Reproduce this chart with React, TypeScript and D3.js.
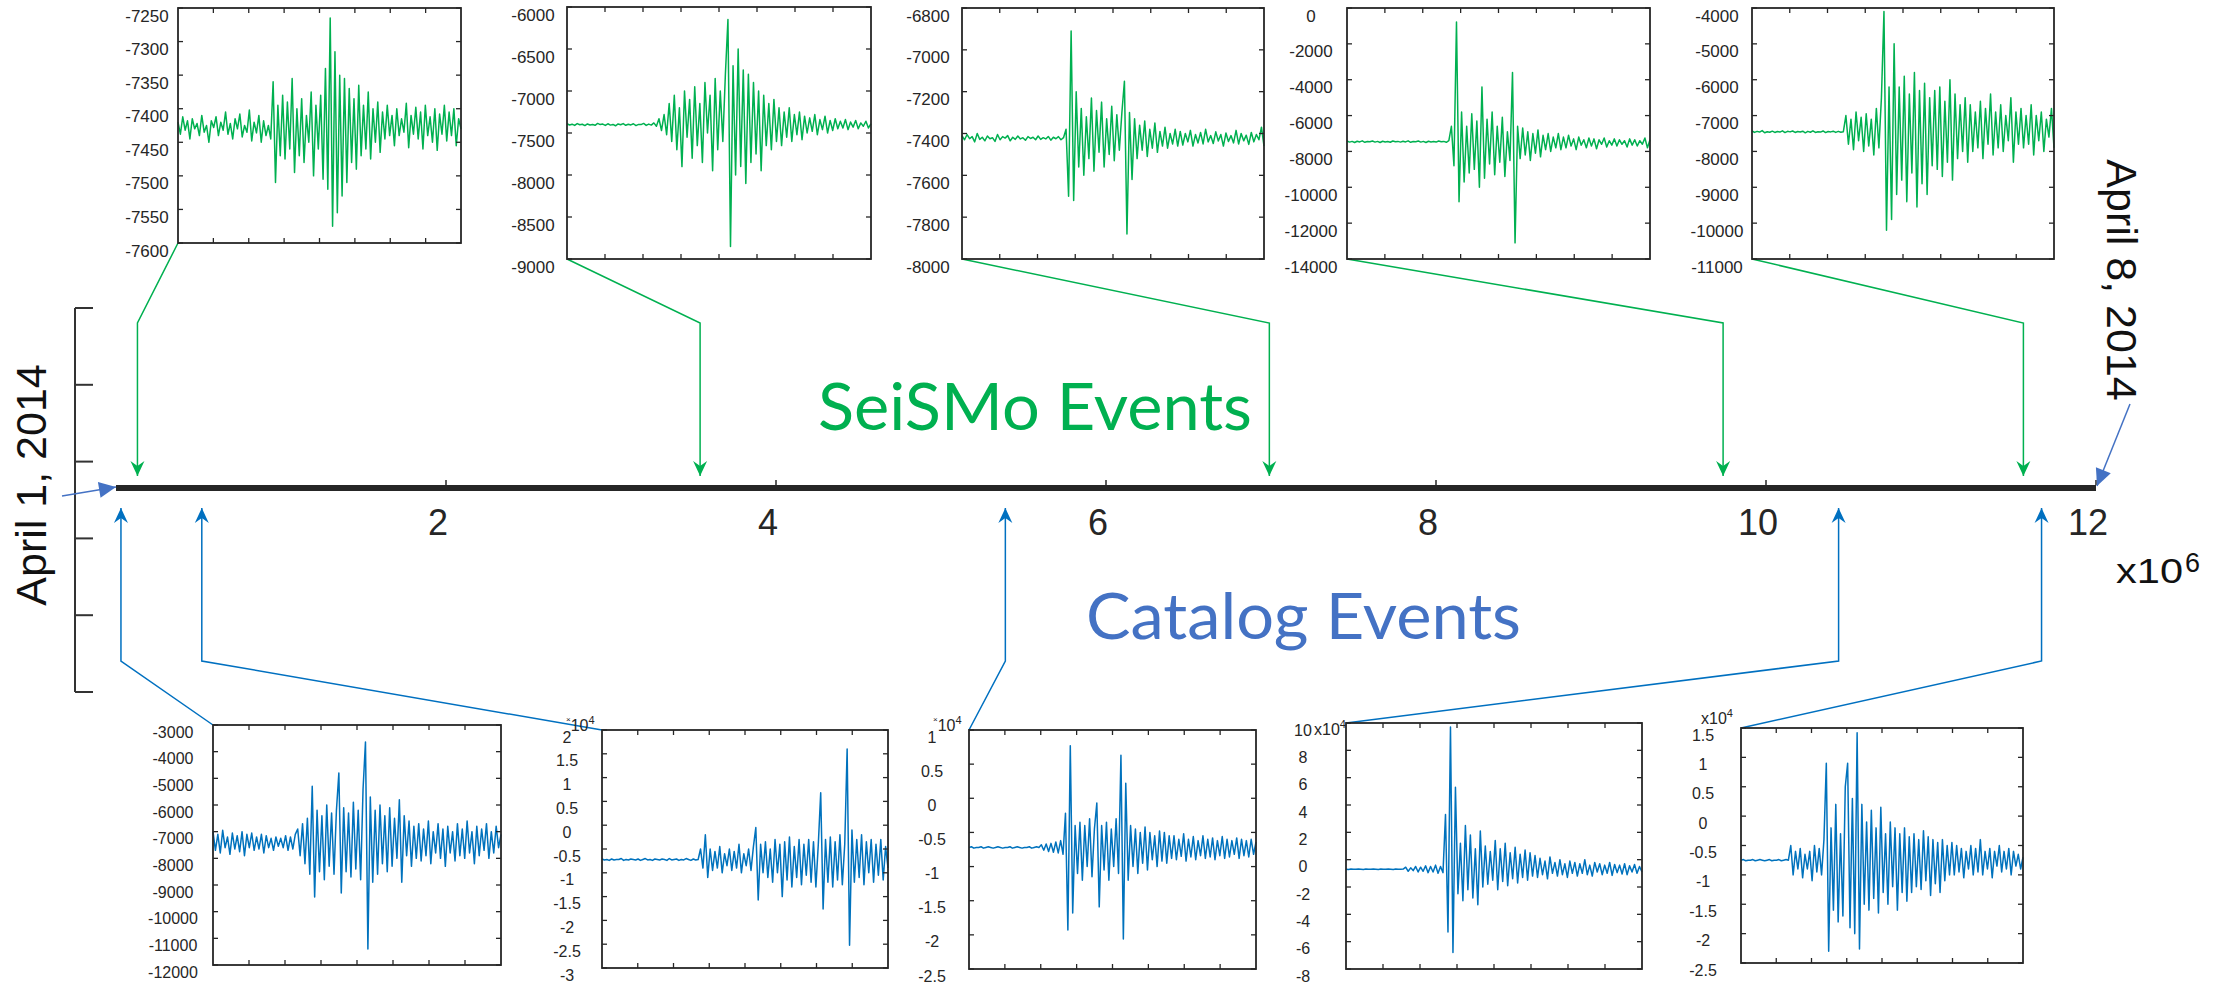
import React from 'react';
import * as d3 from 'd3';

// waveform samples (top row = SeiSMo, bottom row = catalog)
const seismo1 = [
  -7420, -7438, -7412, -7432, -7418, -7445, -7415, -7430, -7422, -7440, -7410, -7435, -7425, -7450, -7418, -7428, -7412, -7440, -7420, -7432,
  -7405, -7438, -7422, -7445, -7415, -7430, -7408, -7442, -7425, -7435, -7402, -7448, -7420, -7436, -7410, -7450, -7418, -7440, -7425, -7445,
  -7360, -7510, -7395, -7470, -7380, -7475, -7390, -7460, -7355, -7495, -7400, -7470, -7385, -7480, -7410, -7450, -7375, -7500, -7395, -7460,
  -7380, -7505, -7340, -7520, -7265, -7575, -7315, -7555, -7350, -7530, -7355, -7510, -7370,
  -7480, -7385, -7490, -7365, -7470, -7395, -7460, -7375, -7475, -7400, -7450, -7390, -7465,
  -7405, -7445, -7395, -7440, -7410, -7455, -7400, -7440, -7415, -7435, -7392, -7458, -7410, -7438, -7398, -7445, -7405, -7460, -7395, -7440,
  -7412, -7450, -7400, -7462, -7408, -7438, -7395, -7448, -7405, -7440, -7400, -7455, -7415, -7430,
];
const seismo2 = [
  -7390, -7405, -7395, -7410, -7388, -7402, -7396, -7412, -7392, -7404, -7398, -7408, -7386, -7400, -7394, -7410, -7390, -7406, -7398, -7414,
  -7392, -7402, -7388, -7408, -7396, -7404, -7390, -7412, -7398, -7400, -7386, -7410, -7394, -7406, -7380, -7420,
  -7330, -7470, -7280, -7520, -7150, -7600, -7050, -7700, -7200, -7900, -7000, -7550, -7100, -7800, -6950,
  -7650, -7150, -7850, -6900, -7500, -7050, -7950, -6850, -7700, -7000, -7600, -6800,
  -6150, -8850, -6700, -8000, -6500, -7900, -6750, -8100,
  -6800, -7850, -6900, -7750, -7000, -7950, -7050, -7650, -7150, -7700, -7100, -7600, -7200, -7650, -7250,
  -7550, -7200, -7600, -7280, -7520, -7250, -7580, -7300, -7500, -7320, -7480, -7280, -7520, -7340, -7460, -7300, -7500, -7350, -7470, -7330,
  -7450, -7360, -7440, -7340, -7460, -7370, -7430, -7350, -7450, -7380, -7420, -7360, -7440, -7390,
];
const seismo3 = [
  -7410, -7430, -7405, -7425, -7415, -7440, -7400, -7428, -7418, -7435, -7412, -7425, -7420, -7438, -7405, -7430, -7415, -7422, -7410, -7435,
  -7418, -7428, -7412, -7426, -7420, -7432, -7415, -7424, -7418, -7430, -7412, -7428, -7420, -7426, -7414, -7432, -7418, -7425, -7415, -7430, -7420,
  -7380, -7700, -6910, -7720,
  -7200, -7560, -7280, -7600, -7320, -7520, -7230, -7580, -7290, -7490, -7250, -7560, -7330, -7500, -7270, -7530, -7310, -7480, -7300,
  -7150, -7880, -7300, -7620,
  -7330, -7520, -7360, -7480, -7340, -7510, -7380, -7470, -7350, -7490, -7390, -7460, -7370, -7470, -7400, -7450, -7380, -7460,
  -7390, -7455, -7400, -7440, -7385, -7460, -7405, -7445, -7395, -7450, -7380, -7440, -7410, -7448, -7392, -7436, -7405, -7460, -7398, -7438,
  -7410, -7445, -7385, -7450, -7400, -7435, -7408, -7452, -7395, -7440, -7405, -7430, -7370, -7460,
];
const seismo4 = [
  -7420, -7480, -7440, -7500, -7430, -7470, -7410, -7490, -7450, -7460, -7420, -7480, -7440, -7500, -7430, -7470, -7450, -7490, -7420, -7460,
  -7440, -7480, -7430, -7470, -7410, -7490, -7450, -7460, -7420, -7480, -7440, -7500, -7430, -7470, -7450, -7480, -7420, -7460, -7440, -7490, -7400,
  -6600, -8800, -780, -10800,
  -5800, -9700, -6600, -9200, -5900, -9000, -6300, -10000,
  -4400, -9500, -6200, -8700, -5800, -9300, -6600, -8600, -6100, -9400, -6900, -8500,
  -3600, -13100, -6600,
  -8400, -6700, -8200, -6900, -8500, -7000, -8100, -6800, -8300, -7100, -7900, -7000, -8000, -7200, -7800, -7000, -7900, -7200,
  -7800, -7100, -7700, -7300, -7900, -7200, -7650, -7350, -7800, -7250, -7700, -7300, -7850, -7350, -7600, -7250, -7750, -7400, -7650, -7300,
  -7700, -7350, -7600, -7400, -7750, -7300, -7650, -7350, -7700, -7400, -7600, -7250, -7800, -7350,
];
const seismo5 = [
  -7430, -7470, -7440, -7460, -7420, -7480, -7450, -7465, -7435, -7470, -7445, -7460, -7425, -7475, -7440, -7455, -7430, -7470, -7445, -7460,
  -7435, -7480, -7440, -7465, -7425, -7470, -7450, -7460, -7430, -7475, -7445, -7455, -7435, -7470, -7440, -7465, -7450,
  -7000, -7800, -7100, -7950, -6900, -7700, -7050, -8000, -6950, -7850, -7100, -8100, -6800, -7900, -6500,
  -4100, -10200, -6200,
  -9900, -5000, -9200, -6200, -8800, -5900, -9400, -6400, -8600, -5800, -9550, -6300, -8900, -6100, -9200, -6500, -8400, -6300,
  -8500, -6200, -8700, -6600, -8300, -6000, -8800, -6400, -8200, -6700, -8000, -6500, -8300,
  -6700, -8000, -6900, -7900, -6600, -8200, -6800, -7800, -6400, -8100, -6900, -7900, -6700, -8000, -7000, -7700, -6500, -8300, -6900, -7800,
  -6800, -7900, -7000, -7800, -6700, -8100, -7000, -7700, -6900, -8000, -7100, -7600, -6800, -7900,
];

const catalog1 = [
  -7000, -7700, -7100, -7800, -6950, -7600, -7200, -7850, -7050, -7650, -7150, -7750, -7000, -7900, -7100, -7600, -7050, -7700, -7200, -7650,
  -7100, -7800, -7150, -7600, -7250, -7700, -7200, -7550, -7250, -7600, -7150, -7700, -7200, -7650, -7100,
  -6900, -7900, -6700, -8200, -6500, -8600, -5300, -9450, -6200, -8500, -6400, -8800, -6000, -8300, -6300, -8600,
  -6200, -4800, -9300, -6100, -8500, -6300, -8700, -5900, -8400, -6200,
  -8800, -5400, -3640, -11400, -5700, -8900,
  -6200, -8600, -6000, -8200, -6400, -8500, -6100, -8300, -6500, -8000, -5800, -8900, -6400, -7900,
  -6600, -8300, -6800, -8000, -6700, -8100, -6900, -7900, -6600, -8200, -7000, -7800, -6700, -8000, -6900, -8300, -6800, -7800, -7000, -8100,
  -6700, -7900, -6900, -8000, -6600, -7800, -7000, -8200, -6800, -7900, -6900, -7700, -6700, -8000, -7000, -7800, -6800, -7600, -7100,
];
const catalog2 = [
  -0.71, -0.73, -0.72, -0.74, -0.71, -0.73, -0.72, -0.72, -0.7, -0.74, -0.72, -0.73, -0.71, -0.72, -0.73, -0.71, -0.74, -0.72, -0.7, -0.73,
  -0.72, -0.74, -0.71, -0.72, -0.73, -0.71, -0.72, -0.74, -0.7, -0.73, -0.72, -0.71, -0.74, -0.72, -0.73, -0.7, -0.72, -0.74, -0.71, -0.73, -0.72,
  -0.5, -0.9, -0.2, -1.1, -0.5, -0.95, -0.55, -0.9, -0.45, -1.0, -0.6, -0.85, -0.5, -0.95, -0.55, -0.9, -0.4, -1.0, -0.6, -0.85, -0.5, -0.95, -0.45,
  -0.05, -1.57, -0.4, -1.0,
  -0.35, -1.1, -0.5, -1.2, -0.3, -1.0, -0.4, -1.5, -0.35, -1.15, -0.25, -1.3, -0.45, -1.1, -0.3, -1.25, -0.4, -1.05, -0.3, -1.2, -0.35, -1.3, -0.4,
  0.68, -1.76,
  -0.3, -1.2, -0.25, -1.3, -0.35, -1.15, -0.2, -1.25, -0.4,
  1.6, -2.52, -0.1,
  -1.2, -0.3, -1.1, -0.2, -1.25, -0.35, -1.0, -0.3, -1.2, -0.4, -1.05, -0.3, -1.15, -0.45, -0.9,
];
const catalog3 = [
  -0.72, -0.71, -0.73, -0.72, -0.72, -0.71, -0.73, -0.72, -0.71, -0.72, -0.73, -0.72, -0.71, -0.72, -0.73, -0.72, -0.72, -0.71, -0.73, -0.72,
  -0.71, -0.72, -0.73, -0.72, -0.72, -0.71, -0.73, -0.72, -0.71, -0.72,
  -0.68, -0.76, -0.67, -0.78, -0.66, -0.79, -0.64, -0.8, -0.62, -0.82,
  -0.22, -1.93, 0.77, -1.68, -0.4,
  -1.1, -0.35, -1.2, -0.4, -1.0, -0.3, -1.15, -0.45,
  -0.07, -1.59,
  -0.4, -1.05, -0.35, -1.2, -0.45, -1.0, -0.3, -1.1,
  0.63, -2.06, 0.22,
  -1.2, -0.4, -1.0, -0.45, -1.1, -0.5, -0.95, -0.42, -1.05, -0.5, -0.9, -0.55, -1.0, -0.48, -0.92, -0.5, -0.95, -0.55, -0.88,
  -0.55, -0.9, -0.6, -0.85, -0.52, -0.92, -0.6, -0.86, -0.56, -0.9, -0.62, -0.84, -0.55, -0.88, -0.6, -0.86, -0.58, -0.9, -0.62, -0.84,
  -0.56, -0.88, -0.6, -0.86, -0.62, -0.82, -0.58, -0.88, -0.6, -0.84, -0.62, -0.86, -0.6, -0.82, -0.64,
];
const catalog4 = [
  -0.7, -0.72, -0.68, -0.7, -0.71, -0.69, -0.7, -0.72, -0.68, -0.7, -0.71, -0.69, -0.7, -0.72, -0.68, -0.7, -0.71, -0.69, -0.7, -0.72,
  -0.68, -0.7, -0.71, -0.69,
  -0.55, -0.85, -0.6, -0.8, -0.5, -0.9, -0.55, -0.85, -0.45, -0.95, -0.5, -0.9, -0.4, -1.0, -0.5, -0.95,
  3.3, -5.3, 9.7, -6.8, 5.3, -2.5,
  1.2, -3.0, 2.5, -2.2, 1.8, -2.8, 0.8, -3.3,
  2.1,
  -2.0, 1.0, -1.8, 0.6, -1.5, 1.4, -2.2, 0.8, -1.6, 1.2, -1.9, 0.5, -1.4, 0.9, -1.7, 0.4, -1.3, 0.7, -1.5, 0.5, -1.2, 0.3,
  -1.3, 0.1, -1.1, -0.1, -1.4, 0.2, -1.0, -0.2, -1.2, 0.0, -1.1, -0.3, -1.3, -0.1, -1.0, -0.2, -1.2, -0.3, -1.0, 0.0,
  -1.1, -0.4, -1.2, -0.2, -0.9, -0.3, -1.1, -0.4, -1.0, -0.2, -1.15, -0.35, -0.95, -0.4, -1.05, -0.3, -1.1, -0.45, -0.9, -0.35,
  -1.0, -0.5, -0.9,
];
const catalog5 = [
  -0.75, -0.74, -0.76, -0.75, -0.75, -0.74, -0.76, -0.75, -0.74, -0.75, -0.76, -0.75, -0.74, -0.76, -0.75, -0.75, -0.74, -0.76, -0.75, -0.74, -0.75,
  -0.5, -1.0, -0.6, -0.9, -0.55, -1.05, -0.65, -0.9, -0.6, -1.1, -0.5, -0.95, -0.55, -1.0, -0.4,
  0.9, -2.3, -0.2, -1.6, 0.2, -1.8, -0.3, -1.7, 0.5, 0.9, -1.9, 0.3, -2.0, 1.42, -2.26, 0.2, -1.5,
  -0.1, -1.6, 0.1, -1.4, -0.2, -1.65, 0.15, -1.3, -0.3, -1.5, -0.1, -1.2, -0.2, -1.6, -0.3, -1.3, -0.2, -1.45, -0.35,
  -1.3, -0.3, -1.2, -0.4, -1.25, -0.25, -1.1, -0.35, -1.35, -0.4, -1.15, -0.45, -1.3, -0.4, -1.1, -0.5, -1.0, -0.45,
  -1.0, -0.5, -0.95, -0.55, -1.05, -0.6, -0.9, -0.5, -1.0, -0.55, -0.95, -0.4, -1.0, -0.6, -0.9, -0.55, -1.05, -0.6, -0.85, -0.5,
  -0.95, -0.6, -0.9, -0.55, -1.0, -0.6, -0.85, -0.65, -0.9, -0.7,
];

// y tick labels of each panel
const seismo1Ticks = [-7600, -7550, -7500, -7450, -7400, -7350, -7300, -7250];
const seismo2Ticks = [-9000, -8500, -8000, -7500, -7000, -6500, -6000];
const seismo3Ticks = [-8000, -7800, -7600, -7400, -7200, -7000, -6800];
const seismo4Ticks = [-14000, -12000, -10000, -8000, -6000, -4000, -2000, 0];
const seismo5Ticks = [-11000, -10000, -9000, -8000, -7000, -6000, -5000, -4000];
const catalog1Ticks = [-12000, -11000, -10000, -9000, -8000, -7000, -6000, -5000, -4000, -3000];
const catalog2Ticks = [-3, -2.5, -2, -1.5, -1, -0.5, 0, 0.5, 1, 1.5, 2];
const catalog3Ticks = [-2.5, -2, -1.5, -1, -0.5, 0, 0.5, 1];
const catalog4Ticks = [-8, -6, -4, -2, 0, 2, 4, 6, 8, 10];
const catalog5Ticks = [-2.5, -2, -1.5, -1, -0.5, 0, 0.5, 1, 1.5];

// time axis (x10^6) and event times
const timeTicks = [2, 4, 6, 8, 10, 12];
const seismoTimes = [0.13, 3.54, 6.99, 9.74, 11.56];
const catalogTimes = [0.03, 0.52, 5.39, 10.44, 11.67];

const GREEN = '#00B050';
const WAVE_BLUE = '#0072BD';
const LINK_BLUE = '#0070C0';
const DATE_BLUE = '#4472C4';
const INK = '#262626';
const FONT = '"Liberation Sans", Arial, sans-serif';

const topPanels = [
  { data: seismo1, ticks: seismo1Ticks, x0: 178, x1: 461, y0: 8, y1: 243, labelX: 147 },
  { data: seismo2, ticks: seismo2Ticks, x0: 567, x1: 871, y0: 7, y1: 259, labelX: 533 },
  { data: seismo3, ticks: seismo3Ticks, x0: 962, x1: 1264, y0: 8, y1: 259, labelX: 928 },
  { data: seismo4, ticks: seismo4Ticks, x0: 1347, x1: 1650, y0: 8, y1: 259, labelX: 1311 },
  { data: seismo5, ticks: seismo5Ticks, x0: 1752, x1: 2054, y0: 8, y1: 259, labelX: 1717 },
];

const bottomPanels = [
  { data: catalog1, ticks: catalog1Ticks, x0: 213, x1: 501, y0: 725, y1: 965, labelX: 173, exp: null },
  { data: catalog2, ticks: catalog2Ticks, x0: 602, x1: 888, y0: 730, y1: 968, labelX: 567, exp: { x: 566, y: 731, tiny: true } },
  { data: catalog3, ticks: catalog3Ticks, x0: 969, x1: 1256, y0: 730, y1: 969, labelX: 932, exp: { x: 933, y: 731, tiny: true } },
  { data: catalog4, ticks: catalog4Ticks, x0: 1346, x1: 1642, y0: 723, y1: 969, labelX: 1303, exp: { x: 1314, y: 735, tiny: false } },
  { data: catalog5, ticks: catalog5Ticks, x0: 1741, x1: 2023, y0: 728, y1: 963, labelX: 1703, exp: { x: 1701, y: 724, tiny: false } },
];

function WavePanel({ p, color, fs, dy }: { p: any; color: string; fs: number; dy: number }) {
  const ext = d3.extent(p.ticks as number[]) as [number, number];
  const x = d3.scaleLinear().domain([0, p.data.length - 1]).range([p.x0, p.x1]);
  const y = d3.scaleLinear().domain(ext).range([p.y1, p.y0]);
  const line = d3
    .line<number>()
    .x((_, i) => x(i))
    .y((d) => y(d));
  const w = p.x1 - p.x0;
  const xt = d3.range(1, 8).map((k) => p.x0 + (k * w) / 8);
  return (
    <g>
      <path d={line(p.data) || ''} fill="none" stroke={color} strokeWidth={1.5} strokeLinejoin="round" />
      <rect x={p.x0} y={p.y0} width={w} height={p.y1 - p.y0} fill="none" stroke={INK} strokeWidth={1.8} />
      {xt.map((t, i) => (
        <g key={'x' + i} stroke={INK} strokeWidth={1.3}>
          <line x1={t} x2={t} y1={p.y0} y2={p.y0 + 5} />
          <line x1={t} x2={t} y1={p.y1} y2={p.y1 - 5} />
        </g>
      ))}
      {(p.ticks as number[]).map((t) => (
        <g key={'y' + t}>
          <line x1={p.x0} x2={p.x0 + 5} y1={y(t)} y2={y(t)} stroke={INK} strokeWidth={1.3} />
          <line x1={p.x1} x2={p.x1 - 5} y1={y(t)} y2={y(t)} stroke={INK} strokeWidth={1.3} />
          <text
            x={p.labelX}
            y={y(t) + dy}
            textAnchor="middle"
            dominantBaseline="central"
            fontFamily={FONT}
            fontSize={fs}
            fill={INK}
          >
            {String(t)}
          </text>
        </g>
      ))}
    </g>
  );
}

export default function App() {
  const W = 2230;
  const H = 984;
  const tx = d3.scaleLinear().domain([0, 12]).range([116, 2096]);
  const axisY = 488;
  const bracket = d3.scaleLinear().domain([0, 5]).range([308, 692]);

  return (
    <svg
      width={W}
      height={H}
      style={{ position: 'absolute', left: 0, top: 0, background: '#fff' }}
      fontFamily={FONT}
    >
      <defs>
        <marker id="arrGreen" viewBox="-16 -8 17 16" markerWidth={17} markerHeight={16} refX={0} refY={0} orient="auto" markerUnits="userSpaceOnUse">
          <path d="M0,0 L-15,-7 L-10,0 L-15,7 Z" fill={GREEN} />
        </marker>
        <marker id="arrBlue" viewBox="-16 -8 17 16" markerWidth={17} markerHeight={16} refX={0} refY={0} orient="auto" markerUnits="userSpaceOnUse">
          <path d="M0,0 L-15,-7 L-10,0 L-15,7 Z" fill={LINK_BLUE} />
        </marker>
        <marker id="arrDate" viewBox="-18 -9 19 18" markerWidth={19} markerHeight={18} refX={0} refY={0} orient="auto" markerUnits="userSpaceOnUse">
          <path d="M0,0 L-17,-8 L-17,8 Z" fill={DATE_BLUE} />
        </marker>
      </defs>

      {/* left bracket scale */}
      <line x1={75} x2={75} y1={bracket(0)} y2={bracket(5)} stroke="#333" strokeWidth={2} />
      {d3.range(6).map((k) => (
        <line key={k} x1={75} x2={93} y1={bracket(k)} y2={bracket(k)} stroke="#333" strokeWidth={2} />
      ))}

      {/* connectors from SeiSMo panels */}
      {seismoTimes.map((t, i) => {
        const p = topPanels[i];
        return (
          <path
            key={'g' + i}
            d={`M${p.x0},${p.y1} L${tx(t)},323 L${tx(t)},476`}
            fill="none"
            stroke={GREEN}
            strokeWidth={1.5}
            markerEnd="url(#arrGreen)"
          />
        );
      })}

      {/* connectors from catalog panels */}
      {catalogTimes.map((t, i) => {
        const p = bottomPanels[i];
        return (
          <path
            key={'b' + i}
            d={`M${p.x0},${p.y0} L${tx(t)},661 L${tx(t)},508`}
            fill="none"
            stroke={LINK_BLUE}
            strokeWidth={1.5}
            markerEnd="url(#arrBlue)"
          />
        );
      })}

      {/* time axis */}
      <line x1={tx(0)} x2={tx(12)} y1={axisY} y2={axisY} stroke={INK} strokeWidth={6} />
      {timeTicks.map((t) => (
        <g key={'t' + t}>
          <line x1={tx(t)} x2={tx(t)} y1={axisY - 3} y2={axisY - 8} stroke={INK} strokeWidth={1.5} />
          <text x={tx(t) - 8} y={535} textAnchor="middle" fontSize={36} fill={INK}>
            {t}
          </text>
        </g>
      ))}
      <text x={2116} y={583} fontSize={35} fill="#111" textLength={67} lengthAdjust="spacingAndGlyphs">
        x10
      </text>
      <text x={2185} y={572} fontSize={27} fill="#111">
        6
      </text>

      {/* dates */}
      <text transform="translate(46,485) rotate(-90)" textAnchor="middle" fontSize={43} fill="#111">
        April 1, 2014
      </text>
      <path d="M62,496 L116,487" stroke={DATE_BLUE} strokeWidth={1.5} markerEnd="url(#arrDate)" />
      <text transform="translate(2107,280) rotate(90)" textAnchor="middle" fontSize={43} fill="#111">
        April 8, 2014
      </text>
      <path d="M2130,404 L2097,486" stroke={DATE_BLUE} strokeWidth={1.5} markerEnd="url(#arrDate)" />

      {/* titles */}
      <text x={818} y={430} fontFamily="Lato, 'Open Sans', sans-serif" fontSize={66} fill={GREEN} textLength={434} lengthAdjust="spacingAndGlyphs">
        SeiSMo Events
      </text>
      <text x={1086} y={639} fontFamily="Lato, 'Open Sans', sans-serif" fontSize={64} fill={DATE_BLUE} textLength={435} lengthAdjust="spacingAndGlyphs">
        Catalog Events
      </text>

      {/* waveform panels */}
      {topPanels.map((p, i) => (
        <WavePanel key={'tp' + i} p={p} color={GREEN} fs={17} dy={8} />
      ))}
      {bottomPanels.map((p, i) => (
        <WavePanel key={'bp' + i} p={p} color={WAVE_BLUE} fs={16} dy={7} />
      ))}
      {bottomPanels.map((p, i) =>
        p.exp ? (
          <text key={'e' + i} x={p.exp.x} y={p.exp.y} fontSize={16} fill={INK}>
            {p.exp.tiny ? (
              <tspan fontSize={8} dy={-9}>
                ×
              </tspan>
            ) : (
              <tspan>x</tspan>
            )}
            <tspan dy={p.exp.tiny ? 9 : 0}>10</tspan>
            <tspan fontSize={11} dy={-7}>
              4
            </tspan>
          </text>
        ) : null
      )}
    </svg>
  );
}
